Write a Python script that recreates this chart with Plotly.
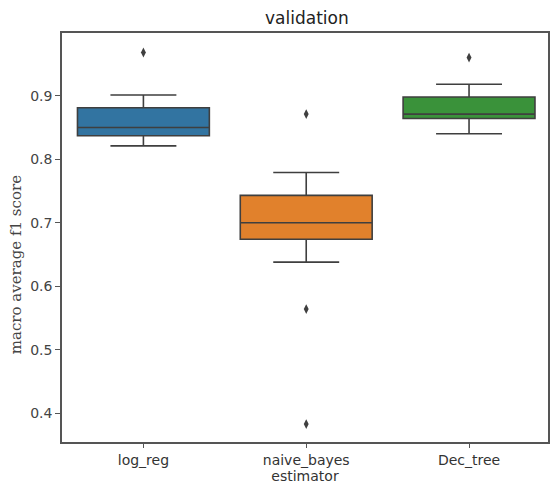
import plotly.graph_objects as go

# Summary statistics of the validation scores for each estimator
estimators = ["log_reg", "naive_bayes", "Dec_tree"]
q1 = [0.837, 0.674, 0.864]
median = [0.850, 0.700, 0.871]
q3 = [0.881, 0.743, 0.898]
lower_whisker = [0.821, 0.638, 0.840]
upper_whisker = [0.901, 0.779, 0.918]

# Flier points (beyond the whiskers)
outlier_est = ["log_reg", "naive_bayes", "naive_bayes", "naive_bayes", "Dec_tree"]
outlier_val = [0.968, 0.871, 0.564, 0.383, 0.960]

box_colors = ["#3274a1", "#e1812c", "#3a923a"]
edge = "#3f3f3f"
font = "DejaVu Sans"

fig = go.Figure()
for i, name in enumerate(estimators):
    fig.add_trace(go.Box(
        x=[name], q1=[q1[i]], median=[median[i]], q3=[q3[i]],
        lowerfence=[lower_whisker[i]], upperfence=[upper_whisker[i]],
        fillcolor=box_colors[i], line=dict(color=edge, width=1.6),
        width=0.81, whiskerwidth=0.5, boxpoints=False, showlegend=False,
        hoverinfo="skip",
    ))

fig.add_trace(go.Scatter(
    x=outlier_est, y=outlier_val, mode="markers",
    marker=dict(symbol="diamond-tall", size=7, color=edge),
    showlegend=False,
))

fig.update_layout(
    width=550, height=489,
    margin=dict(l=62, r=0, t=33, b=47),
    paper_bgcolor="white", plot_bgcolor="white",
    title=dict(text="validation", x=0.558, xanchor="center", y=0.963, yanchor="middle",
               font=dict(family=font, size=17, color="#222")),
    font=dict(family=font, size=14, color="#333"),
    annotations=[dict(
        text="macro average f1 score", textangle=-90,
        xref="paper", yref="paper", x=-0.094, y=0.433,
        xanchor="center", yanchor="middle", showarrow=False,
        font=dict(family="DejaVu Serif", size=15, color="#444"),
    )],
)

fig.update_xaxes(
    type="category", categoryorder="array", categoryarray=estimators,
    range=[-0.5, 2.485],
    showline=True, linecolor="#555", linewidth=1.5, mirror=True,
    ticks="outside", ticklen=4, tickcolor="#555", tickwidth=1,
    showgrid=False, zeroline=False,
    title=dict(text="estimator", standoff=2, font=dict(family=font, size=14, color="#333")),
    tickfont=dict(family=font, size=14, color="#333"),
)
fig.update_yaxes(
    range=[0.3548, 0.9987],
    tickvals=[0.4, 0.5, 0.6, 0.7, 0.8, 0.9],
    ticktext=["0.4", "0.5", "0.6", "0.7", "0.8", "0.9"],
    showline=True, linecolor="#555", linewidth=1.5, mirror=True,
    ticks="outside", ticklen=5, tickcolor="#555", tickwidth=1,
    showgrid=False, zeroline=False,
    tickfont=dict(family=font, size=14, color="#444"),
)

fig.write_html("out.html")
